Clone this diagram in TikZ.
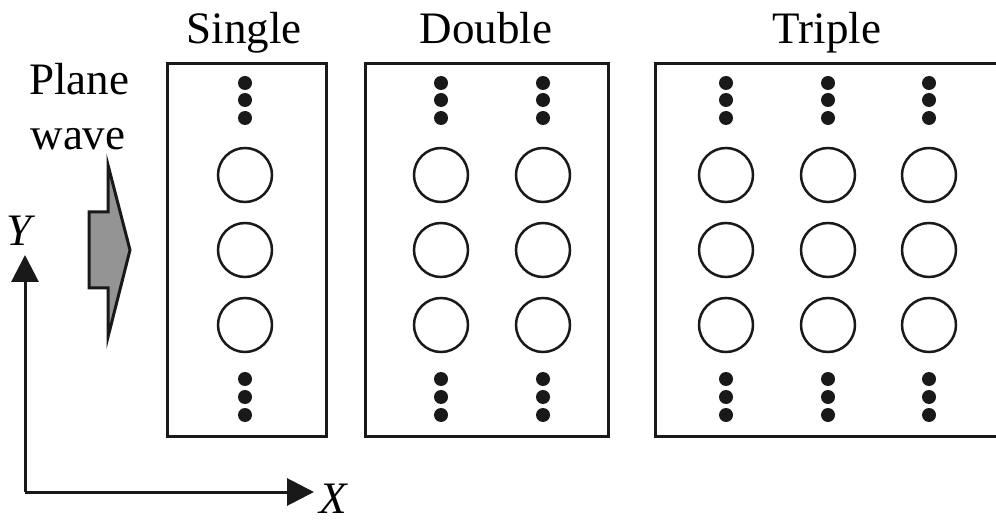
\documentclass[tikz,border=0pt]{standalone}
\usepackage{fontspec}
\setmainfont{Liberation Serif}
\newfontfamily\figserif{Liberation Serif}
\usetikzlibrary{arrows.meta}
\begin{document}
\begin{tikzpicture}[x=1pt,y=-1pt,
  lbl/.style={font=\figserif\fontsize{45}{54}\selectfont, inner sep=0pt, anchor=base},
  boxframe/.style={draw=black!90, line width=3pt},
  cyl/.style={circle, draw=black!90, line width=2.5pt, minimum size=54pt, inner sep=0pt},
  dotmark/.style={circle, fill=black!90, minimum size=14pt, inner sep=0pt},
  axis/.style={line width=3pt, draw=black!90, -{Triangle[length=27pt,width=27pt]}}
]
\useasboundingbox (0,0) rectangle (996,521);
% boxes
\draw[boxframe] (167,64) rectangle (326,436);
\draw[boxframe] (365,64) rectangle (608,436);
\draw[boxframe] (1010,64) -- (655,64) -- (655,436) -- (1010,436);
% titles
\node[lbl] (tsingle) at (244,44) {Single};
\node[lbl] (tdouble) at (486,44) {Double};
\node[lbl] (ttriple) at (827,44) {Triple};
\node[lbl] (plane) at (79,95) {Plane};
\node[lbl] (wave) at (78,150) {wave};
% columns
\foreach \cx/\nm in {245/s1, 441/d1, 543/d2, 726/t1, 828/t2, 929/t3}{
  \foreach \cy/\r in {175/a, 250/b, 325/c}{
    \node[cyl] (\nm\r) at (\cx,\cy) {};
  }
  \foreach \dy/\k in {83/1, 100/2, 118/3, 379/4, 397/5, 415/6}{
    \node[dotmark] (\nm dot\k) at (\cx,\dy) {};
  }
}
% plane wave arrow
\draw[line width=3pt, draw=black!90, fill=black!42, line join=miter]
  (89,212) -- (108,212) -- (108,165) -- (130,250) -- (108,337) -- (108,288) -- (89,288) -- cycle;
% axes
\coordinate (o) at (25,492);
\coordinate (yend) at (25,255);
\coordinate (xend) at (314,492);
\draw[axis] (o) -- (yend);
\draw[axis] (o) -- (xend);
\node[lbl, font=\figserif\fontsize{45}{54}\selectfont\itshape] (ylab) at (19,246) {Y};
\node[lbl, font=\figserif\fontsize{45}{54}\selectfont\itshape] (xlab) at (333,513) {X};
\end{tikzpicture}
\end{document}
